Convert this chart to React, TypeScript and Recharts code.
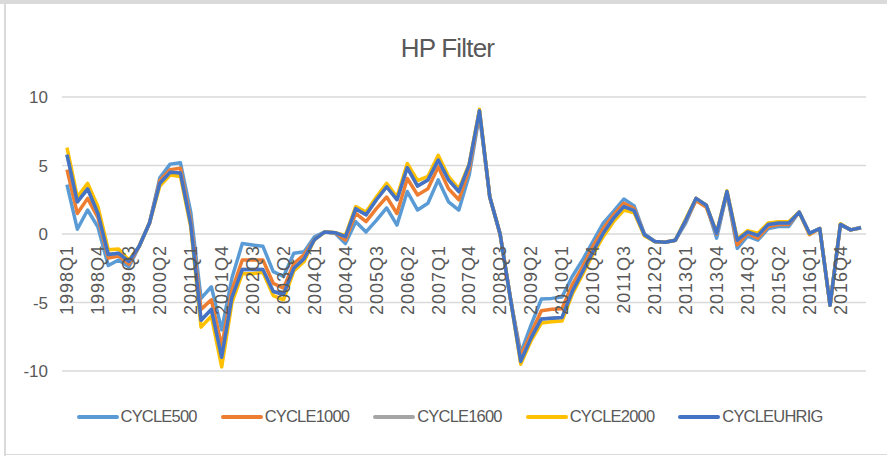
import React from "react";
import { LineChart, Line, XAxis, YAxis, CartesianGrid, Legend } from "recharts";

const TITLE = "HP Filter";
const START_YEAR = 1998;
const N_QUARTERS = 78;
const quarters: string[] = [];
for (let i = 0; i < N_QUARTERS; i++) {
  quarters.push(`${START_YEAR + Math.floor(i / 4)}Q${(i % 4) + 1}`);
}
const yTicks = [-10, -5, 0, 5, 10];

const cycle500 = [
  3.6, 0.35, 1.75, 0.5, -2.3, -1.9, -2.4, -0.9, 0.8, 4.1,
  5.1, 5.2, 1.6, -4.7, -3.85, -7.0, -3.2, -0.7, -0.8, -0.9,
  -2.75, -3.1, -1.4, -1.3, -0.2, 0.15, 0.05, -0.7, 0.9, 0.15,
  1.0, 1.9, 0.65, 3.1, 1.75, 2.25, 3.95, 2.35, 1.75, 4.3,
  8.7, 2.7, 0.0, -4.7, -8.7, -6.65, -4.75, -4.7, -4.6, -3.1,
  -1.9, -0.55, 0.8, 1.65, 2.55, 2.05, 0.0, -0.55, -0.6, -0.45,
  0.8, 2.5, 2.1, -0.3, 3.0, -1.05, -0.15, -0.45, 0.4, 0.55,
  0.55, 1.6, 0.05, 0.4, -5.2, 0.7, 0.3, 0.5,
];
const cycle1000 = [
  4.7, 1.5, 2.6, 1.2, -1.75, -1.6, -2.2, -0.9, 0.8, 3.9,
  4.7, 4.8, 1.0, -5.5, -4.8, -8.2, -4.1, -1.9, -1.9, -1.9,
  -3.6, -3.95, -2.15, -1.5, -0.4, 0.15, 0.1, -0.45, 1.5, 0.9,
  1.85, 2.7, 1.5, 4.05, 2.85, 3.3, 4.9, 3.3, 2.5, 4.7,
  8.9, 2.7, 0.0, -4.7, -8.95, -7.25, -5.6, -5.5, -5.45, -3.7,
  -2.4, -0.9, 0.4, 1.4, 2.25, 1.85, -0.05, -0.55, -0.6, -0.45,
  0.95, 2.45, 1.95, 0.0, 3.05, -0.8, 0.05, -0.3, 0.55, 0.7,
  0.7, 1.6, -0.05, 0.4, -5.2, 0.7, 0.3, 0.45,
];
const cycle1600 = [
  5.8, 2.35, 3.3, 1.5, -1.5, -1.4, -2.0, -0.9, 0.8, 3.7,
  4.5, 4.45, 0.7, -6.3, -5.5, -9.0, -4.6, -2.6, -2.6, -2.6,
  -4.2, -4.4, -2.5, -1.8, -0.4, 0.15, 0.1, -0.2, 1.85, 1.4,
  2.5, 3.45, 2.5, 4.85, 3.5, 3.95, 5.4, 3.95, 3.1, 5.05,
  9.0, 2.7, 0.0, -4.7, -9.3, -7.6, -6.2, -6.15, -6.1, -4.2,
  -2.75, -1.3, 0.05, 1.15, 2.0, 1.7, -0.05, -0.55, -0.6, -0.45,
  1.0, 2.6, 2.1, 0.05, 3.1, -0.45, 0.15, -0.1, 0.7, 0.8,
  0.8, 1.6, 0.05, 0.4, -5.2, 0.7, 0.3, 0.45,
];
const cycle2000 = [
  6.3, 2.7, 3.7, 2.0, -1.15, -1.1, -1.9, -0.9, 0.8, 3.5,
  4.3, 4.2, 0.5, -6.8, -6.0, -9.7, -5.0, -2.9, -2.9, -2.8,
  -4.5, -4.8, -2.7, -2.0, -0.4, 0.15, 0.1, -0.1, 2.0, 1.6,
  2.7, 3.7, 2.7, 5.15, 3.9, 4.2, 5.75, 4.2, 3.3, 5.1,
  9.1, 2.7, 0.0, -4.7, -9.5, -7.8, -6.5, -6.4, -6.35, -4.4,
  -2.95, -1.5, -0.2, 0.9, 1.75, 1.55, -0.15, -0.55, -0.6, -0.45,
  1.1, 2.6, 2.1, 0.1, 3.15, -0.35, 0.25, 0.05, 0.8, 0.9,
  0.9, 1.6, 0.0, 0.4, -5.2, 0.75, 0.3, 0.45,
];
const cycleUhrig = [
  5.8, 2.35, 3.3, 1.5, -1.5, -1.4, -2.0, -0.9, 0.8, 3.7,
  4.5, 4.45, 0.7, -6.3, -5.5, -9.0, -4.6, -2.6, -2.6, -2.6,
  -4.2, -4.4, -2.5, -1.8, -0.4, 0.15, 0.1, -0.2, 1.85, 1.4,
  2.5, 3.45, 2.5, 4.85, 3.5, 3.95, 5.4, 3.95, 3.1, 5.05,
  9.0, 2.7, 0.0, -4.7, -9.3, -7.6, -6.2, -6.15, -6.1, -4.2,
  -2.75, -1.3, 0.05, 1.15, 2.0, 1.7, -0.05, -0.55, -0.6, -0.45,
  1.0, 2.6, 2.1, 0.05, 3.1, -0.45, 0.15, -0.1, 0.7, 0.8,
  0.8, 1.6, 0.05, 0.4, -5.2, 0.7, 0.3, 0.45,
];

const seriesDefs = [
  { key: "CYCLE500", values: cycle500, color: "#5B9BD5" },
  { key: "CYCLE1000", values: cycle1000, color: "#ED7D31" },
  { key: "CYCLE1600", values: cycle1600, color: "#A5A5A5" },
  { key: "CYCLE2000", values: cycle2000, color: "#FFC000" },
  { key: "CYCLEUHRIG", values: cycleUhrig, color: "#4472C4" },
];

const data = quarters.map((q, i) => {
  const row: Record<string, string | number> = { q };
  seriesDefs.forEach((s) => {
    row[s.key] = s.values[i];
  });
  return row;
});

const TEXT = "#595959";
const AXIS_FONT = "'Liberation Sans', Arial, sans-serif";

// x labels sit just below the zero line (Excel-style axis crossing at 0)
const ZERO_LABEL_SHIFT = 126;

const XTick = (props: any) => {
  const { x, y, payload } = props;
  const ty = y - ZERO_LABEL_SHIFT;
  return (
    <text
      x={x}
      y={ty}
      transform={`rotate(-90, ${x}, ${ty})`}
      textAnchor="end"
      dy="0.35em"
      fill={TEXT}
      fontSize={18}
      fontFamily={AXIS_FONT}
      letterSpacing={1}
    >
      {payload.value}
    </text>
  );
};

const LegendContent = () => {
  return (
    <div
      style={{
        display: "flex",
        justifyContent: "center",
        alignItems: "center",
        gap: 24,
        paddingLeft: 12,
        fontFamily: AXIS_FONT,
        fontSize: 16.5,
        letterSpacing: -0.8,
        color: TEXT,
      }}
    >
      {seriesDefs.map((s) => (
        <div key={s.key} style={{ display: "flex", alignItems: "center" }}>
          <div style={{ width: 42, height: 4, borderRadius: 2, background: s.color, marginRight: 2 }} />
          <span>{s.key}</span>
        </div>
      ))}
    </div>
  );
};

export default function App() {
  return (
    <div
      style={{
        position: "absolute",
        left: 0,
        top: 0,
        width: 887,
        height: 456,
        background: "#fff",
        overflow: "hidden",
      }}
    >
      <div style={{ position: "absolute", left: 0, top: 0, width: 887, height: 4, background: "#DADADA" }} />
      <div style={{ position: "absolute", left: 4, top: 4, width: 2, height: 452, background: "#DADADA" }} />
      <div style={{ position: "absolute", left: 4, top: 454, width: 883, height: 1, background: "#DADADA" }} />
      <div
        style={{
          position: "absolute",
          left: 4,
          top: 33,
          width: 887,
          textAlign: "center",
          fontFamily: AXIS_FONT,
          fontSize: 26,
          letterSpacing: -0.8,
          color: TEXT,
        }}
      >
        {TITLE}
      </div>
      <div style={{ position: "absolute", left: 0, top: 0 }}>
        <LineChart
          width={887}
          height={456}
          data={data}
          margin={{ top: 97, right: 21, left: 0, bottom: 84 }}
        >
          <CartesianGrid vertical={false} stroke="#D9D9D9" strokeWidth={1.3} />
          <XAxis
            dataKey="q"
            interval={2}
            height={1}
            axisLine={false}
            tickLine={false}
            tickSize={0}
            tickMargin={0}
            padding={{ left: 5, right: 5 }}
            tick={<XTick />}
          />
          <YAxis
            width={62}
            domain={[-10, 10]}
            ticks={yTicks}
            axisLine={false}
            tickLine={false}
            tickSize={0}
            tickMargin={14}
            tick={{ fill: TEXT, fontSize: 17, fontFamily: AXIS_FONT }}
          />
          {seriesDefs.map((s) => (
            <Line
              key={s.key}
              type="linear"
              dataKey={s.key}
              stroke={s.color}
              strokeWidth={3.5}
              dot={false}
              isAnimationActive={false}
              strokeLinejoin="round"
            />
          ))}
          <Legend
            layout="horizontal"
            verticalAlign="middle"
            align="center"
            content={<LegendContent />}
            wrapperStyle={{ top: 407, left: 0, width: 887, height: 26 }}
          />
        </LineChart>
      </div>
    </div>
  );
}
